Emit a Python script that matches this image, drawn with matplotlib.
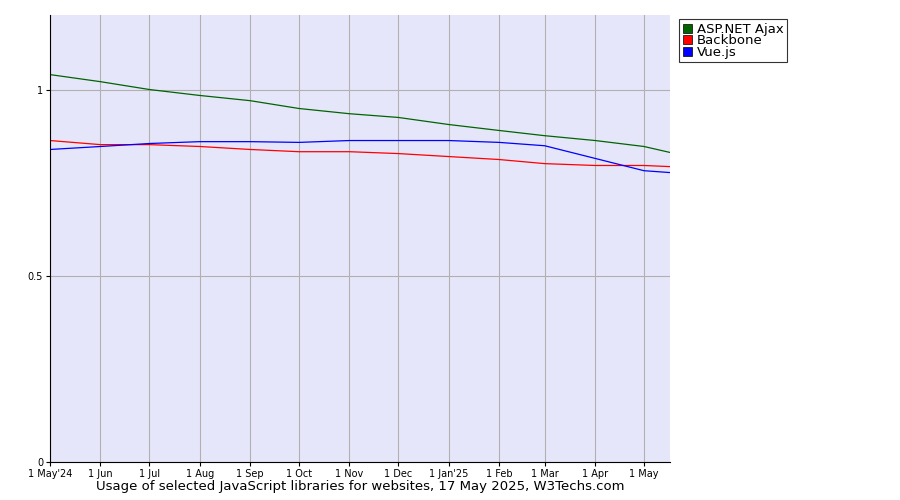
import matplotlib
matplotlib.use("Agg")
import matplotlib.pyplot as plt
import datetime as dt
from matplotlib.patches import Rectangle

dates = ["2024-05-01","2024-06-01","2024-07-01","2024-08-01","2024-09-01","2024-10-01","2024-11-01",
         "2024-12-01","2025-01-01","2025-02-01","2025-03-01","2025-04-01","2025-05-01","2025-05-17"]
aspnet = [1.040,1.021,1.000,0.984,0.970,0.949,0.935,0.925,0.906,0.890,0.876,0.863,0.847,0.831]
backbone = [0.863,0.852,0.852,0.847,0.839,0.833,0.833,0.828,0.820,0.812,0.801,0.796,0.796,0.793]
vue = [0.839,0.847,0.855,0.860,0.860,0.858,0.863,0.863,0.863,0.858,0.849,0.815,0.782,0.777]
tick_labels = ["1 May'24","1 Jun","1 Jul","1 Aug","1 Sep","1 Oct","1 Nov","1 Dec","1 Jan'25","1 Feb","1 Mar","1 Apr","1 May"]

x = [dt.datetime.strptime(d, "%Y-%m-%d") for d in dates]

fig = plt.figure(figsize=(9, 5), dpi=100)
ax = fig.add_axes([50/900, 38/500, 620/900, 447/500])
ax.set_facecolor("#e6e6fa")
ax.plot(x, aspnet, color="#006400", lw=0.9)
ax.plot(x, backbone, color="#ff0000", lw=0.9)
ax.plot(x, vue, color="#0000ff", lw=0.9)
ax.set_xlim(x[0], x[-1])
ax.set_ylim(0, 1.2)
ax.set_xticks(x[:13])
ax.set_xticklabels(tick_labels, fontsize=7)
ax.set_yticks([0, 0.5, 1])
ax.set_yticklabels(["0", "0.5", "1"], fontsize=7)
ax.grid(True, color="#b0b0b0", lw=0.8)
ax.set_axisbelow(True)
ax.tick_params(length=3, pad=2)
for s in ["top", "right"]:
    ax.spines[s].set_visible(False)
ax.set_xlabel("Usage of selected JavaScript libraries for websites, 17 May 2025, W3Techs.com", fontsize=9.5, labelpad=1)
handles = [Rectangle((0,0),1,1,facecolor=c,edgecolor="black",lw=0.5) for c in ["#006400","#ff0000","#0000ff"]]
leg = ax.legend(handles, ["ASP.NET Ajax","Backbone","Vue.js"], loc="upper left", bbox_to_anchor=(1.015, 0.99),
                fontsize=9.5, frameon=True, fancybox=False, edgecolor="black", handlelength=0.7,
                handleheight=0.7, borderpad=0.25, labelspacing=-0.1, handletextpad=0.4, borderaxespad=0)
leg.get_frame().set_linewidth(0.8)
fig.savefig("out.png")
